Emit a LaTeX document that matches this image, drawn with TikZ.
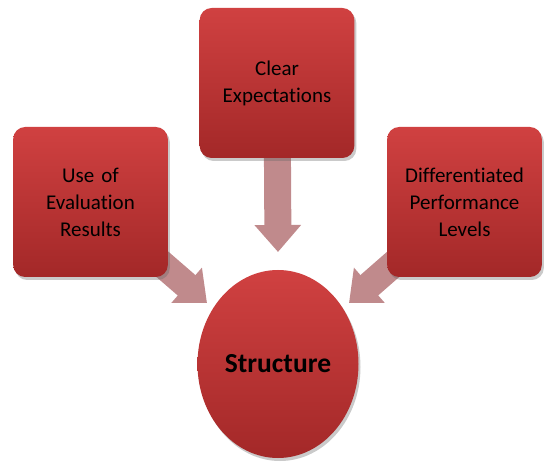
\documentclass[tikz,border=0pt]{standalone}
\usepackage{fontspec}
\setmainfont{Carlito}[Ligatures=NoCommon]
\usetikzlibrary{shapes.geometric,shadows,arrows.meta,backgrounds}
\definecolor{boxtop}{HTML}{D04141}
\definecolor{boxbot}{HTML}{A32828}
\definecolor{arr}{HTML}{C08A8C}
\tikzset{
  box/.style={rectangle, rounded corners=12pt, minimum width=153pt, minimum height=150pt,
    top color=boxtop, bottom color=boxbot, draw=none, align=center, text width=148pt,
    font=\fontsize{21}{27}\selectfont,
    drop shadow={shadow xshift=2pt, shadow yshift=-3pt, opacity=0.35, fill=black!60}},
  hub/.style={ellipse, minimum width=161pt, minimum height=188pt, inner sep=0pt,
    top color=boxtop, bottom color=boxbot, draw=none,
    font=\fontsize{27.5}{31}\selectfont\bfseries,
    drop shadow={shadow xshift=2pt, shadow yshift=-3pt, opacity=0.35, fill=black!60}},
  fatarrow/.style={draw=arr, line width=27pt, -{Triangle[length=27pt, width=45pt]}}
}
\begin{document}
\begin{tikzpicture}[x=1pt,y=1pt]
\useasboundingbox (0,0) rectangle (544,464);
\node[hub] (hub) at (278,100) {Structure};
\node[box] (top) at (277,381) {Clear\\Expectations};
\node[box] (left) at (90.5,262) {Use of\\Evaluation\\Results};
\node[box] (right) at (464.5,262) {Differentiated\\Performance\\Levels};
\coordinate (ttip) at (278,212);
\coordinate (ltip) at (207,161);
\coordinate (rtip) at (349,161);
\begin{scope}[on background layer]
\draw[fatarrow] (top.center) -- (ttip);
\draw[fatarrow] (left.center) -- (ltip);
\draw[fatarrow] (right.center) -- (rtip);
\end{scope}
\end{tikzpicture}
\end{document}
